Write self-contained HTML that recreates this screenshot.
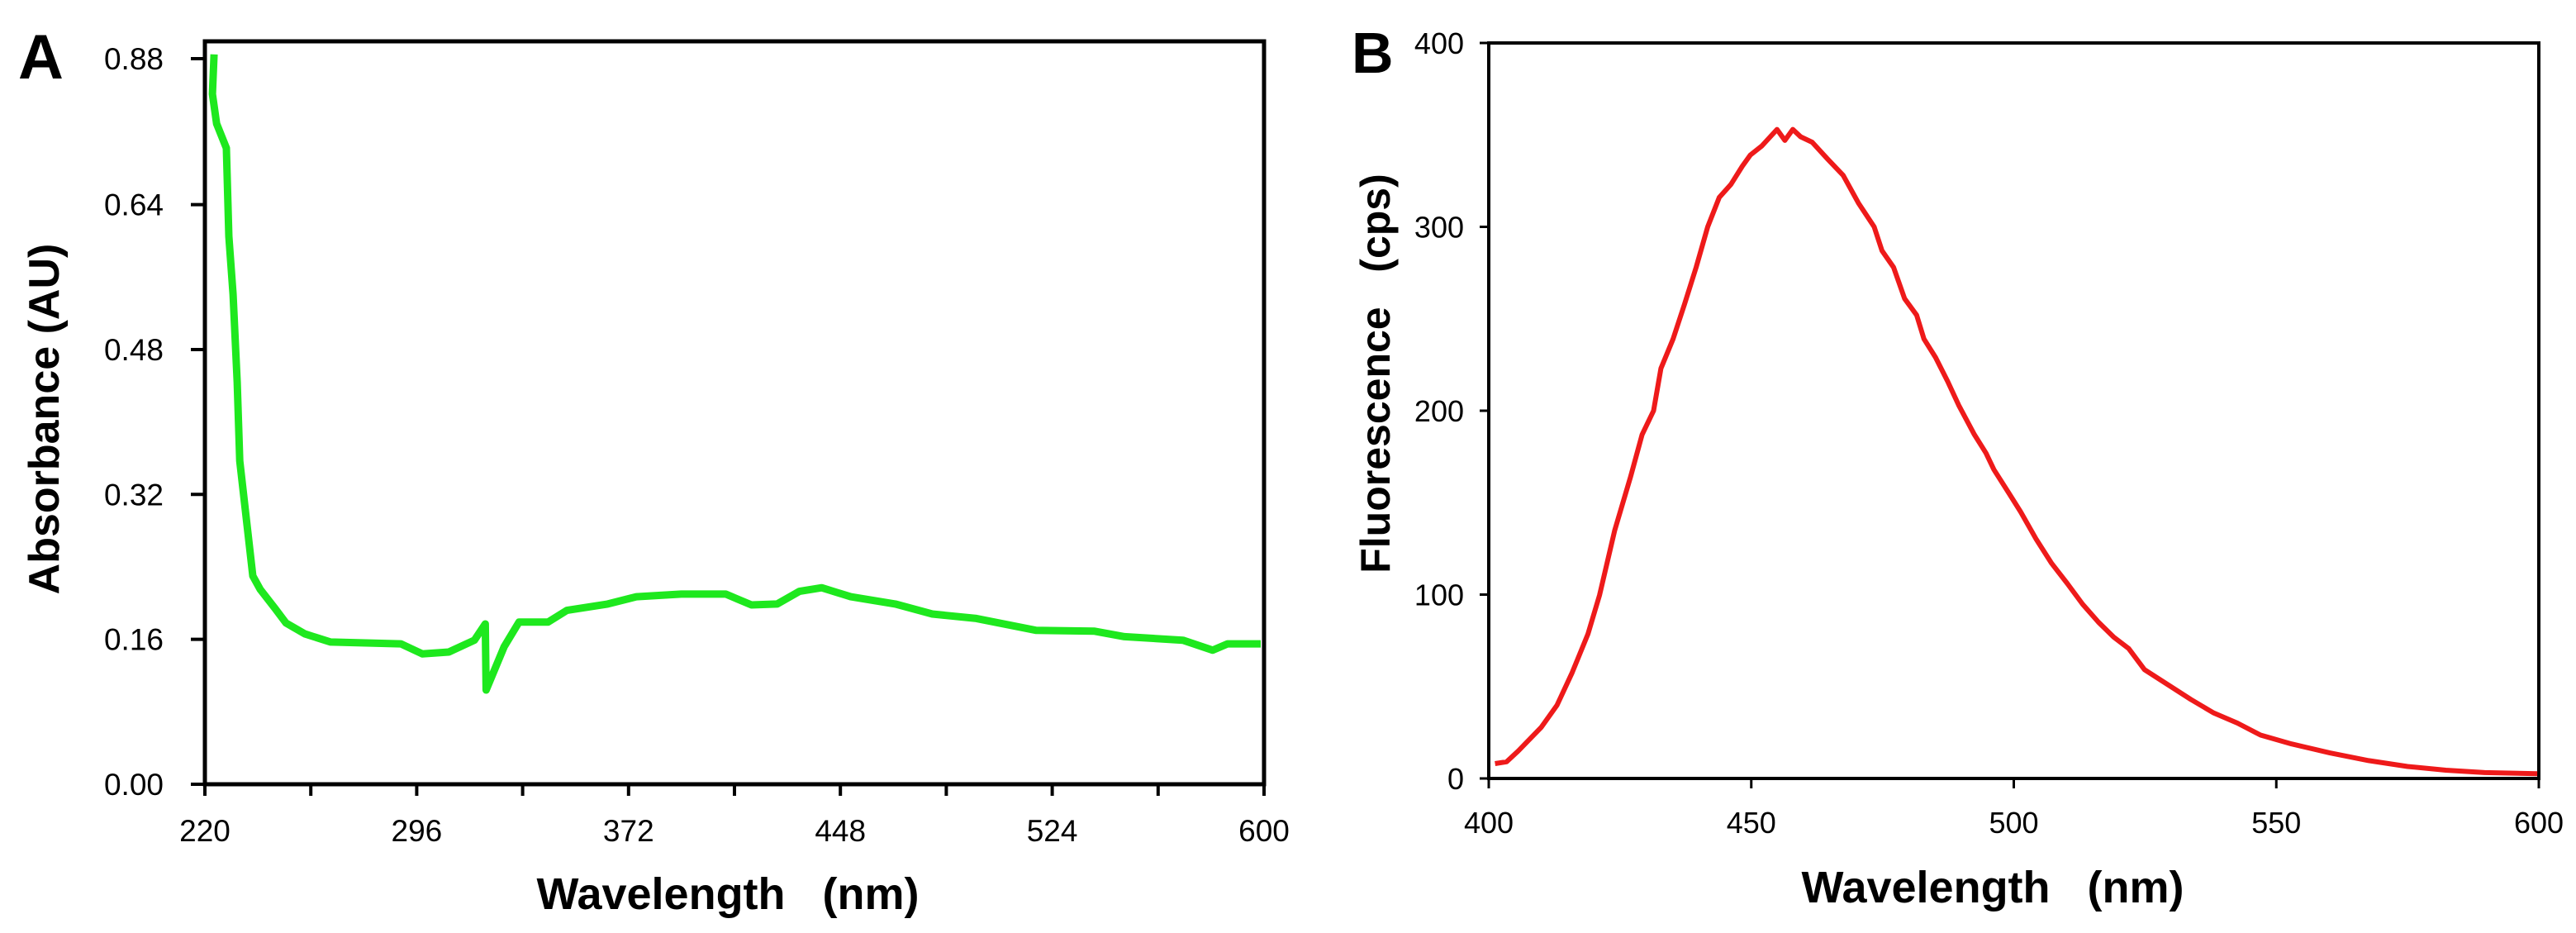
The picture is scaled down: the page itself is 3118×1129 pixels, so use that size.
<!DOCTYPE html>
<html><head><meta charset="utf-8"><style>
html,body{margin:0;padding:0;background:#fff;width:3118px;height:1129px;overflow:hidden}
svg{display:block}
text{font-family:"Liberation Sans",Arial,sans-serif;fill:#000}
.pre{white-space:pre}
</style></head><body>
<svg id="fig" width="3118" height="1129" viewBox="0 0 3118 1129" xmlns="http://www.w3.org/2000/svg">
<g id="panelA"></g>
<g id="panelB"></g>
</svg>
<script>
// Panel A data (absorbance)
const absTickLabels = ["0.00","0.16","0.32","0.48","0.64","0.88"];
const absTickValues = [0,0.16,0.32,0.48,0.64,0.88];
const absXTicks = [220,296,372,448,524,600];
const absWavelength = [223.3,222.7,224.2,227.7,228.6,230.1,231.6,232.5,237.2,239.9,245.2,249.1,255.9,265.1,290.3,298.0,307.5,316.7,320.6,320.9,327.4,332.7,343.1,349.9,364.5,374.8,390.9,406.9,416.1,425.3,433.3,441.3,451.7,467.7,481.0,496.8,518.1,539.2,549.9,570.9,581.6,586.9,598.8];
const absValues = [0.887,0.822,0.773,0.733,0.605,0.541,0.444,0.357,0.230,0.215,0.194,0.178,0.166,0.157,0.155,0.144,0.146,0.159,0.177,0.104,0.152,0.179,0.179,0.192,0.199,0.207,0.210,0.210,0.198,0.199,0.213,0.217,0.207,0.199,0.188,0.183,0.170,0.169,0.163,0.159,0.148,0.155,0.155];
// Panel B data (fluorescence)
const fluYTicks = [0,100,200,300,400];
const fluXTicks = [400,450,500,550,600];
const fluWavelength = [401.2,403.4,405.6,410.0,413.0,415.9,418.9,421.1,424.0,427.0,429.2,431.4,432.8,435.1,437.3,439.5,441.7,443.9,446.1,448.3,449.8,452.0,454.9,456.4,457.9,459.4,461.6,464.5,467.5,470.4,473.4,474.9,477.1,479.2,481.5,482.9,485.1,487.4,489.5,492.5,494.7,496.2,499.1,501.3,504.3,507.2,510.2,513.1,516.1,519.0,521.9,524.9,529.3,533.7,538.1,542.6,547.0,552.9,560.2,567.6,575.0,582.3,589.7,599.7];
const fluValues = [8.1,9.1,14.9,27.8,39.8,57.6,78.6,99.7,135,164,187,200,223,239,258,278,300,316,323,333,339,344,353,347,353,349,346,337,328,313,300,287,278,261,252,239,229,216,203,187,177,168,155,145,130,117,106,94.8,85.1,77.0,70.6,59.2,51.1,43.0,35.6,30.1,23.6,18.8,13.9,9.7,6.5,4.5,3.2,2.6];

const NS="http://www.w3.org/2000/svg";
function mk(parent,tag,attrs,txt){const e=document.createElementNS(NS,tag);for(const k in attrs)e.setAttribute(k,attrs[k]);if(txt!==undefined)e.textContent=txt;parent.appendChild(e);return e;}

// ---- Panel A ----
const A=document.getElementById('panelA');
const aL=248,aR=1530,aT=50,aB=949;
function ax(w){return aL+(w-220)/380*(aR-aL);}
function ay(v){return v<=0.64? aB-(v/0.16)*175.35 : 247.6-(v-0.64)/0.24*176.6;}
let t=mk(A,'text',{x:22,y:95,'font-size':76,'font-weight':'bold'},'A');


let fr=mk(A,'rect',{x:aL,y:aT,width:aR-aL,height:aB-aT,fill:'none',stroke:'#000','stroke-width':5});


absTickValues.forEach((v,i)=>{
  const y=ay(v);
  const tk=mk(A,'line',{x1:aL-17,x2:aL,y1:y,y2:y,stroke:'#000','stroke-width':4});
  
  
  const lb=mk(A,'text',{x:198,y:y+13,'font-size':37,'text-anchor':'end'},absTickLabels[i]);
  
  
});
for(let w=220;w<=600;w+=38){
  const x=ax(w);
  const tk=mk(A,'line',{x1:x,x2:x,y1:aB,y2:aB+14,stroke:'#000','stroke-width':4});
  
  
}
absXTicks.forEach(w=>{
  const lb=mk(A,'text',{x:ax(w),y:1018,'font-size':37,'text-anchor':'middle'},String(w));
  
  
});
t=mk(A,'text',{x:881,y:1100,'font-size':54,'font-weight':'bold','text-anchor':'middle','class':'pre'},'Wavelength   (nm)');


t=mk(A,'text',{x:0,y:0,'font-size':52,'font-weight':'bold','text-anchor':'middle',transform:'translate(71,507) rotate(-90)'},'Absorbance (AU)');


let dA=absWavelength.map((w,i)=>(i?'L':'M')+ax(w).toFixed(1)+' '+ay(absValues[i]).toFixed(1)).join(' ');
let pA=mk(A,'path',{d:dA,fill:'none',stroke:'#1ee81e','stroke-width':9,'stroke-linejoin':'round','stroke-linecap':'butt'});



// ---- Panel B ----
const B=document.getElementById('panelB');
const bL=1802,bR=3073,bT=52,bB=942;
function bx(w){return bL+(w-400)/200*(bR-bL);}
function by(v){return bB-v/400*(bB-bT);}
t=mk(B,'text',{x:1636,y:88,'font-size':70,'font-weight':'bold'},'B');


fr=mk(B,'rect',{x:bL,y:bT,width:bR-bL,height:bB-bT,fill:'none',stroke:'#000','stroke-width':4});


fluYTicks.forEach(v=>{
  const y=by(v);
  const tk=mk(B,'line',{x1:bL-11,x2:bL,y1:y,y2:y,stroke:'#000','stroke-width':3});
  
  
  const lb=mk(B,'text',{x:1772,y:y+13,'font-size':36,'text-anchor':'end'},String(v));
  
  
});
fluXTicks.forEach(w=>{
  const x=bx(w);
  const tk=mk(B,'line',{x1:x,x2:x,y1:bB,y2:bB+12,stroke:'#000','stroke-width':3});
  
  
  const lb=mk(B,'text',{x:x,y:1008,'font-size':36,'text-anchor':'middle'},String(w));
  
  
});
t=mk(B,'text',{x:2412,y:1092,'font-size':54,'font-weight':'bold','text-anchor':'middle','class':'pre'},'Wavelength   (nm)');


t=mk(B,'text',{x:0,y:0,'font-size':50,'font-weight':'bold','text-anchor':'middle','class':'pre',transform:'translate(1682,452) rotate(-90)'},'Fluorescence   (cps)');


let dB=fluWavelength.map((w,i)=>(i?'L':'M')+bx(w).toFixed(1)+' '+by(fluValues[i]).toFixed(1)).join(' ');
let pB=mk(B,'path',{d:dB,fill:'none',stroke:'#ee1a1a','stroke-width':6,'stroke-linejoin':'round'});


</script>
</body></html>
